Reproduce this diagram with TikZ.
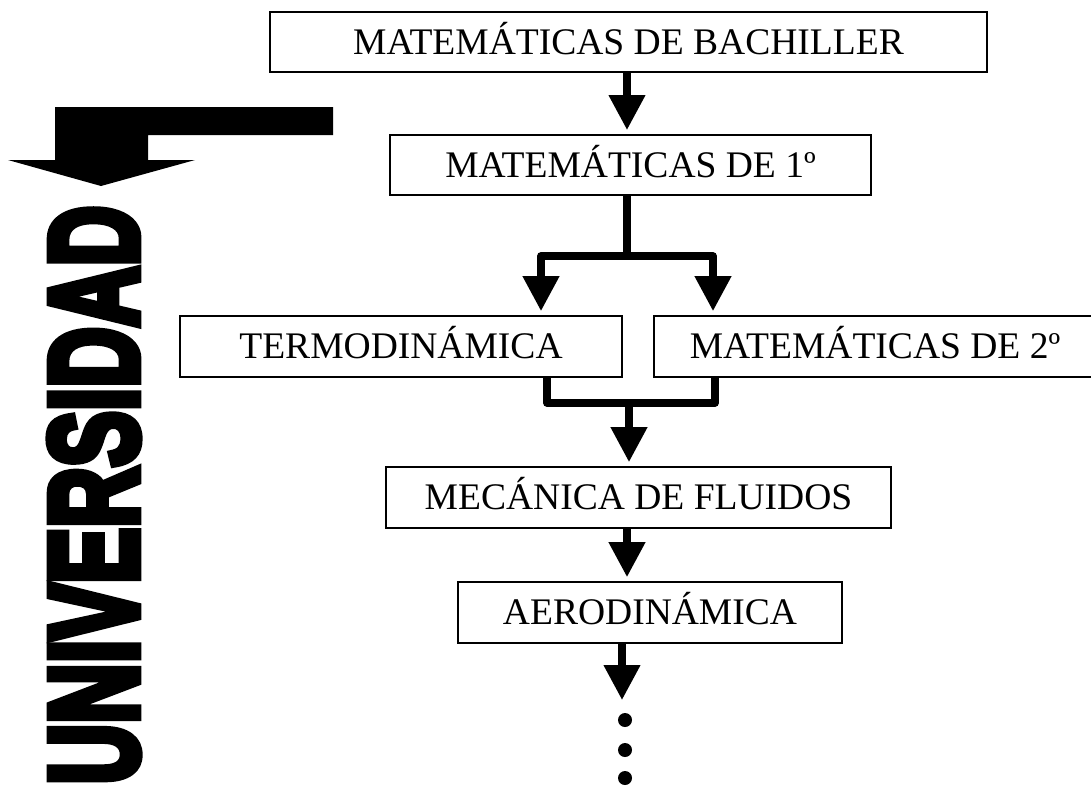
\documentclass[tikz,border=0pt]{standalone}
\usepackage{fontspec}
\usepackage{graphicx}
\setmainfont{Liberation Serif}
\newfontfamily\blockfont{Liberation Sans}[BoldFeatures={FakeBold=7}]
\usetikzlibrary{positioning,arrows.meta}
\tikzset{
  flowarrow/.style={-{Triangle[length=8.75mm, width=8.75mm]}, line width=5.3pt, line join=round, shorten >=0.1cm},
  linkline/.style={line width=5.3pt, line join=round},
  coursebox/.style={draw, line width=1.4pt, inner sep=0pt, minimum height=1.52cm, text height=17.7pt, text depth=0pt,
    font=\fontsize{26.7pt}{30pt}\selectfont}
}

\begin{document}
\begin{tikzpicture}[x=0.025cm, y=-0.025cm]
  \useasboundingbox (0,0) rectangle (1091,785);

  \fill (55,107) -- (333,107) -- (333,135) -- (148,135) -- (148,160) -- (195,160)
    -- (101,186) -- (8,160) -- (55,160) -- cycle;
  \node[rotate=90, inner sep=0pt] (uni) at (94,495)
    {\scalebox{0.672}[1]{\blockfont\bfseries\fontsize{88.9pt}{90pt}\selectfont UNIVERSIDAD}};

  \node[coursebox, minimum height=1.5cm, minimum width=17.925cm] (bach) at (628.5,42) {MATEMÁTICAS DE BACHILLER};
  \node[coursebox, minimum height=1.5cm, minimum width=12.025cm] (prim) at (630.5,165) {MATEMÁTICAS DE 1º};
  \node[coursebox, minimum width=11.05cm] (termo) at (401,346.5) {TERMODINÁMICA};
  \node[coursebox, minimum width=11.05cm] (segun) at (875,346.5) {MATEMÁTICAS DE 2º};
  \node[coursebox, minimum width=12.625cm] (meca) at (638.5,497.5) {MECÁNICA DE FLUIDOS};
  \node[coursebox, minimum width=9.6cm] (aero) at (650,612.5) {AERODINÁMICA};

  \coordinate (split) at (627,256);
  \coordinate (lsplit) at (541,256);
  \coordinate (rsplit) at (713,256);
  \coordinate (merge) at (629,403);
  \coordinate (lmerge) at (547,403);
  \coordinate (rmerge) at (715,403);
  \coordinate (more) at (622,704);

  \draw[flowarrow] (bach.south -| split) -- (split |- prim.north);
  \draw[linkline] (prim.south -| split) -- (split);
  \draw[flowarrow] (split) -- (lsplit) -- (lsplit |- termo.north);
  \draw[flowarrow] (split) -- (rsplit) -- (rsplit |- segun.north);
  \draw[linkline] (lmerge |- termo.south) -- (lmerge) -- (rmerge) -- (rmerge |- segun.south);
  \draw[flowarrow] (merge) -- (merge |- meca.north);
  \draw[flowarrow] (meca.south -| split) -- (split |- aero.north);
  \draw[flowarrow] (aero.south -| more) -- (more);
  \foreach \y in {720,750,778}
    \fill (625,\y) circle[radius=0.175cm];
\end{tikzpicture}
\end{document}
